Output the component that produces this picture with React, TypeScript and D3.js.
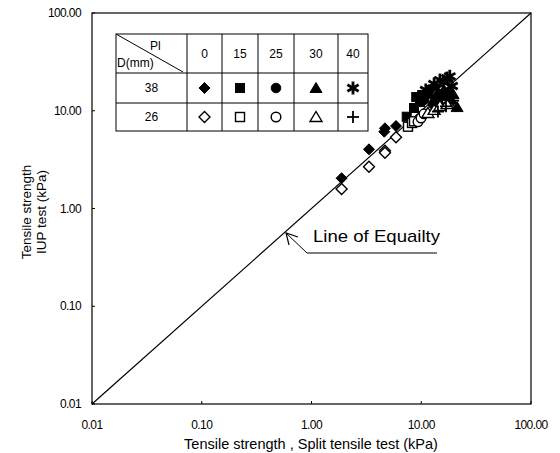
import React from "react";
import * as d3 from "d3";

const tickValues = [0.01, 0.1, 1, 10, 100];
const tickLabels = ["0.01", "0.10", "1.00", "10.00", "100.00"];
const piLevels = ["0", "15", "25", "30", "40"];
const diameters = ["38", "26"];

// [split tensile, IUP tensile] in kPa
const d38pi0 = [[1.88, 2.04], [3.34, 4.03], [4.67, 6.61], [4.6, 6.1], [5.89, 6.98]];
const d26pi0 = [[1.88, 1.58], [3.34, 2.68], [4.67, 3.9], [4.67, 3.72], [5.89, 5.35]];
const d38pi15 = [[7.37, 8.69], [8.59, 10.67], [9.75, 12.27], [9.0, 13.8], [10.2, 14.5]];
const d26pi15 = [[7.57, 6.87], [8.24, 7.5], [8.59, 7.8]];
const d38pi25 = [[10.6, 12.9], [11.5, 14.8], [12.8, 11.7], [14.2, 14.2], [12.0, 16.5], [13.5, 13.2]];
const d26pi25 = [[9.34, 7.7], [9.95, 8.43], [10.6, 9.3]];
const d38pi30 = [[15.1, 11.7], [16.8, 14.2], [18.7, 13.0], [16.1, 16.3], [21.2, 10.9], [17.8, 15.8], [19.5, 14.8]];
const d26pi30 = [[11.5, 9.5], [13.1, 10.2], [14.8, 11.2], [17.2, 11.7]];
const d38pi40 = [[13.1, 18.8], [14.8, 20.6], [17.2, 21.6], [19.1, 17.9], [11.0, 16.3], [16.0, 19.5], [13.8, 17.0], [18.2, 22.5]];
const d26pi40 = [[14.2, 9.8], [16.8, 11.1], [19.5, 12.7]];

const series = [
  { data: d38pi0, shape: "diamond", filled: true },
  { data: d38pi15, shape: "square", filled: true },
  { data: d38pi25, shape: "circle", filled: true },
  { data: d38pi30, shape: "triangle", filled: true },
  { data: d38pi40, shape: "star", filled: true },
  { data: d26pi0, shape: "diamond", filled: false },
  { data: d26pi15, shape: "square", filled: false },
  { data: d26pi25, shape: "circle", filled: false },
  { data: d26pi30, shape: "triangle", filled: false },
  { data: d26pi40, shape: "plus", filled: false },
];

const FONT = "'Liberation Sans', Arial, sans-serif";

function Marker({ shape, filled, x, y }: { shape: string; filled: boolean; x: number; y: number }) {
  const fill = filled ? "#000" : "#fff";
  const sw = filled ? 1 : 1.4;
  const t = `translate(${x},${y})`;
  if (shape === "diamond")
    return <path transform={t} d="M0,-5.5L5.5,0L0,5.5L-5.5,0Z" fill={fill} stroke="#000" strokeWidth={sw} />;
  if (shape === "square")
    return <rect transform={t} x={-4.5} y={-4.5} width={9} height={9} fill={fill} stroke="#000" strokeWidth={sw} />;
  if (shape === "circle")
    return <circle transform={t} r={4.8} fill={fill} stroke="#000" strokeWidth={sw} />;
  if (shape === "triangle")
    return <path transform={t} d="M0,-5.5L6,4.5L-6,4.5Z" fill={fill} stroke="#000" strokeWidth={sw} />;
  if (shape === "star")
    return (
      <g transform={t} stroke="#000" strokeWidth={2.8} strokeLinecap="butt">
        <line x1={0} y1={-6.5} x2={0} y2={6.5} />
        <line x1={-5.6} y1={-3.2} x2={5.6} y2={3.2} />
        <line x1={-5.6} y1={3.2} x2={5.6} y2={-3.2} />
      </g>
    );
  return (
    <g transform={t} stroke="#000" strokeWidth={1.8}>
      <line x1={0} y1={-6} x2={0} y2={6} />
      <line x1={-6} y1={0} x2={6} y2={0} />
    </g>
  );
}

export default function App() {
  const x = d3.scaleLog().domain([0.01, 100]).range([92, 531]);
  const y = d3.scaleLog().domain([0.01, 100]).range([404, 13]);

  // legend table geometry
  const colEdges = [116, 187, 222, 258, 294, 338, 368];
  const rowEdges = [34, 73, 103, 131];
  const legendOrder = [
    ["diamond", "square", "circle", "triangle", "star"],
    ["diamond", "square", "circle", "triangle", "plus"],
  ];

  return (
    <svg width={560} height={453} style={{ position: "absolute", left: 0, top: 0, background: "#fff" }} fontFamily={FONT}>
      <rect x={0} y={0} width={560} height={453} fill="#fff" />
      {/* frame */}
      <rect x={92} y={13} width={439} height={391} fill="none" stroke="#000" strokeWidth={1.2} />
      {/* decade ticks */}
      {tickValues.map((v, i) => (
        <g key={"t" + i}>
          <line x1={x(v)} x2={x(v)} y1={404} y2={401} stroke="#000" />
          <line x1={92} x2={95} y1={y(v)} y2={y(v)} stroke="#000" />
          <text x={x(v)} y={429} fontSize={12} textAnchor="middle" letterSpacing={-0.6}>{tickLabels[i]}</text>
          <text x={81} y={y(v) + 4} fontSize={12} textAnchor="end" letterSpacing={-0.6}>{tickLabels[i]}</text>
        </g>
      ))}
      {/* equality line */}
      <line x1={x(0.01)} y1={y(0.01)} x2={x(100)} y2={y(100)} stroke="#000" strokeWidth={1.2} />
      {/* data */}
      {series.map((s, si) =>
        s.data.map((d, di) => (
          <Marker key={si + "-" + di} shape={s.shape} filled={s.filled} x={x(d[0])} y={y(d[1])} />
        ))
      )}
      {/* annotation */}
      <polyline points="286,233 307,253 437,253" fill="none" stroke="#000" strokeWidth={1} />
      <polyline points="298,237 286,233 289,245" fill="none" stroke="#000" strokeWidth={1.2} />
      <text x={313} y={242} fontSize={17} textLength={127} lengthAdjust="spacingAndGlyphs">Line of Equailty</text>
      {/* legend table */}
      <g stroke="#000" strokeWidth={1}>
        <rect x={colEdges[0]} y={rowEdges[0]} width={colEdges[6] - colEdges[0]} height={rowEdges[3] - rowEdges[0]} fill="#fff" />
        {colEdges.slice(1, 6).map((cx, i) => (
          <line key={"c" + i} x1={cx} x2={cx} y1={rowEdges[0]} y2={rowEdges[3]} />
        ))}
        {rowEdges.slice(1, 3).map((ry, i) => (
          <line key={"r" + i} x1={colEdges[0]} x2={colEdges[6]} y1={ry} y2={ry} />
        ))}
        <line x1={116} y1={34} x2={183} y2={72} />
      </g>
      <text x={150} y={50} fontSize={12}>Pl</text>
      <text x={117} y={67} fontSize={12}>D(mm)</text>
      {piLevels.map((p, i) => (
        <text key={"p" + i} x={(colEdges[i + 1] + colEdges[i + 2]) / 2} y={58} fontSize={12} textAnchor="middle">{p}</text>
      ))}
      {diameters.map((d, r) => (
        <g key={"d" + r}>
          <text x={(colEdges[0] + colEdges[1]) / 2} y={(rowEdges[r + 1] + rowEdges[r + 2]) / 2 + 4} fontSize={12} textAnchor="middle">{d}</text>
          {legendOrder[r].map((sh, c) => (
            <Marker key={c} shape={sh} filled={r === 0} x={(colEdges[c + 1] + colEdges[c + 2]) / 2} y={(rowEdges[r + 1] + rowEdges[r + 2]) / 2} />
          ))}
        </g>
      ))}
      {/* axis titles */}
      <text x={311} y={449} fontSize={14.5} textAnchor="middle">Tensile strength , Split tensile test (kPa)</text>
      <g transform="translate(31,212) rotate(-90)">
        <text x={0} y={0} fontSize={13.5} textAnchor="middle">Tensile strength</text>
        <text x={0} y={15} fontSize={13.5} textAnchor="middle">IUP test (kPa)</text>
      </g>
    </svg>
  );
}
